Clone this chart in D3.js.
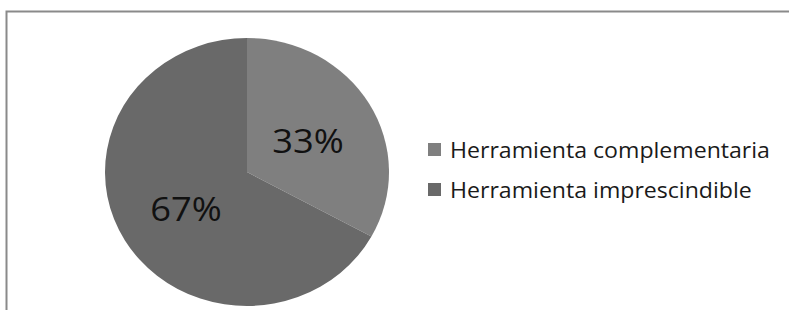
<!DOCTYPE html>
<html>
<head>
    <meta charset="utf-8" />
    <title>pie</title>
    <script src="https://cdn.jsdelivr.net/npm/d3@7"></script>
    <style>
        html, body { margin: 0; padding: 0; background: #fff; }
        svg { display: block; }
    </style>
</head>
<body>
    <div id="container"></div>
    <script>
        const categories = ["Herramienta complementaria", "Herramienta imprescindible"];
        const values = [33, 67];
        const colors = ["#7f7f7f", "#696969"];

        const W = 789, H = 310;
        const cx = 247, cy = 172, rx = 142, ry = 134;
        const stretch = 1.1; // source image is a bit wider than tall

        const svg = d3.select("#container").append("svg")
            .attr("width", W)
            .attr("height", H);

        // chart frame (only top and left edges visible)
        svg.append("path")
            .attr("d", "M6.5," + H + "V11.5H" + W)
            .attr("fill", "none")
            .attr("stroke", "#8a8a8a")
            .attr("stroke-width", 2);

        const data = categories.map(function(c, i) {
            return { label: c, value: values[i] };
        });

        const pie = d3.pie()
            .sort(null)
            .value(function(d) { return d.value; });
        const arcs = pie(data);

        const arc = d3.arc().innerRadius(0).outerRadius(rx);

        const g = svg.append("g")
            .attr("transform", "translate(" + cx + "," + cy + ") scale(1," + (ry / rx) + ")");

        g.selectAll("path.slice")
            .data(arcs)
            .enter().append("path")
            .attr("class", "slice")
            .attr("fill", function(d, i) { return colors[i]; })
            .attr("d", arc);

        const total = d3.sum(values);
        svg.selectAll("text.pct")
            .data(arcs)
            .enter().append("text")
            .attr("class", "pct")
            .attr("transform", function(d) {
                const c = arc.centroid(d);
                return "translate(" + (cx + c[0]) + "," + (cy + c[1] * ry / rx) + ") scale(" + stretch + ",1)";
            })
            .attr("dy", "0.46em")
            .attr("text-anchor", "middle")
            .attr("font-family", "'Open Sans', Lato, sans-serif")
            .attr("font-size", 33)
            .attr("fill", "#111")
            .text(function(d) { return Math.round(d.data.value / total * 100) + "%"; });

        // legend
        const legend = svg.append("g")
            .attr("transform", "translate(428,143)");
        const item = legend.selectAll("g")
            .data(data)
            .enter().append("g")
            .attr("transform", function(d, i) { return "translate(0," + (i * 40) + ")"; });
        item.append("rect")
            .attr("width", 13)
            .attr("height", 13)
            .attr("fill", function(d, i) { return colors[i]; });
        item.append("text")
            .attr("transform", "translate(22,7) scale(" + stretch + ",1)")
            .attr("dy", "0.36em")
            .attr("font-family", "'Open Sans', Lato, sans-serif")
            .attr("font-size", 21)
            .attr("fill", "#1a1a1a")
            .text(function(d) { return d.label; });
    </script>
</body>
</html>
